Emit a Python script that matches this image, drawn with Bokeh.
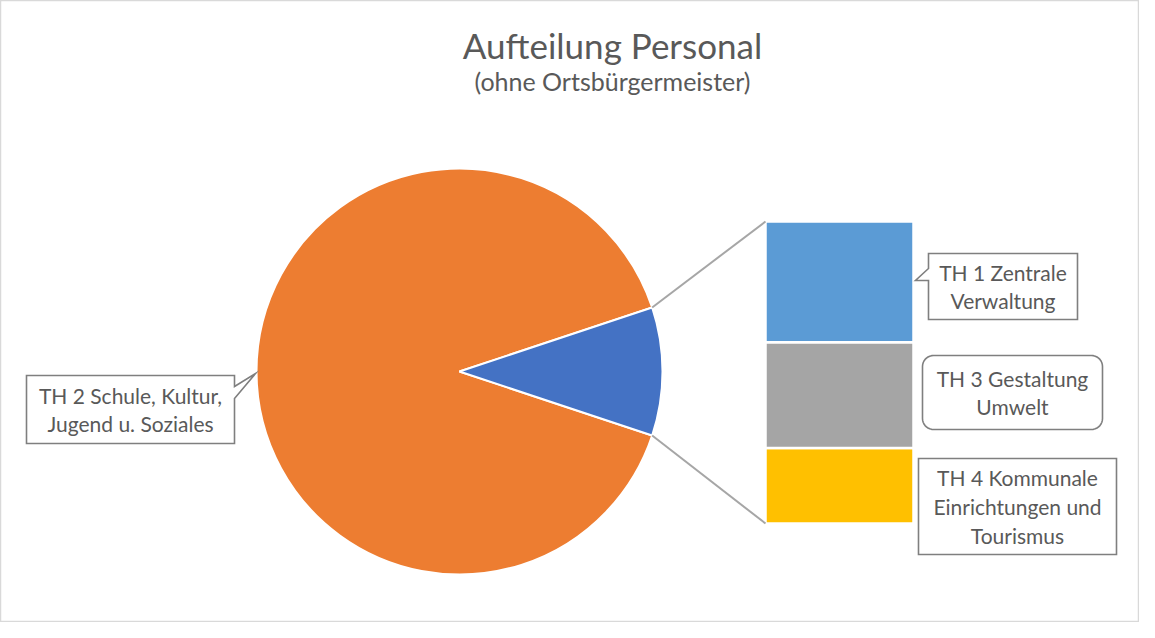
import numpy as np
from bokeh.plotting import figure
from bokeh.models import Range1d
from bokeh.core.properties import value
from bokeh.embed import file_html
from bokeh.resources import INLINE

# ---- data ----
title_text = "Aufteilung Personal"
subtitle_text = "(ohne Ortsbürgermeister)"
main_label = "TH 2 Schule, Kultur,\nJugend u. Soziales"
main_value = 176
bar_labels = ["TH 1 Zentrale\nVerwaltung", "TH 3 Gestaltung\nUmwelt", "TH 4 Kommunale\nEinrichtungen und\nTourismus"]
bar_values = [8, 7, 5]
bar_colors = ["#5B9BD5", "#A5A5A5", "#FFC000"]
pie_colors = ["#ED7D31", "#4472C4"]

FONT = "Lato"
TXT = "#595959"

W, H = 1139, 622
p = figure(width=W, height=H, x_range=Range1d(0, 1139), y_range=Range1d(16, 638),
           output_backend="svg", toolbar_location=None, min_border=0)
p.axis.visible = False
p.grid.visible = False
p.outline_line_color = "#D9D9D9"
p.outline_line_width = 1.5
p.background_fill_color = "white"
p.border_fill_color = "white"


def Y(py):
    return 638 - py


# ---- pie ----
cx, cy, r = 459, Y(371), 203
other = sum(bar_values)
total = main_value + other
theta = other / total * 2 * np.pi
p.wedge(x=[cx, cx], y=[cy, cy], radius=r,
        start_angle=[theta / 2, -theta / 2], end_angle=[2 * np.pi - theta / 2, theta / 2],
        fill_color=pie_colors, line_color="white", line_width=2)

# ---- bar of pie ----
bx0, bx1 = 765, 913
b_bottom, b_top = Y(523), Y(221)
scale = (b_top - b_bottom) / other
vals_bottom_up = bar_values[::-1]
cols_bottom_up = bar_colors[::-1]
cum = np.concatenate([[0], np.cumsum(vals_bottom_up)])
p.quad(left=bx0, right=bx1, bottom=b_bottom + cum[:-1] * scale, top=b_bottom + cum[1:] * scale,
       fill_color=cols_bottom_up, line_color="white", line_width=2.5)

# connector lines
ex, ey = cx + r * np.cos(theta / 2), cy + r * np.sin(theta / 2)
ex2, ey2 = cx + r * np.cos(-theta / 2), cy + r * np.sin(-theta / 2)
p.segment(x0=[ex, ex2], y0=[ey, ey2], x1=[bx0, bx0], y1=[b_top, b_bottom],
          line_color="#A6A6A6", line_width=2)

# ---- callouts ----
BOX_LINE = "#7F7F7F"


def callout_rect(x0, x1, y0, y1, pointer=None):
    xs = [x0, x1, x1, x0]
    ys = [y0, y0, y1, y1]
    if pointer is not None:
        side, a, b, tip = pointer
        if side == "right":
            xs = [x0, x1, x1, tip[0], x1, x1, x0]
            ys = [y0, y0, a, tip[1], b, y1, y1]
        elif side == "left":
            xs = [x0, x1, x1, x0, x0, tip[0], x0]
            ys = [y0, y0, y1, y1, b, tip[1], a]
    p.patch(x=xs, y=[Y(v) for v in ys], fill_color="white", line_color=BOX_LINE,
            line_width=1.6, line_join="miter")


def rounded_rect(x0, x1, y0, y1, rad):
    xs, ys = [], []
    corners = [(x1 - rad, y0 + rad, -np.pi / 2, 0), (x1 - rad, y1 - rad, 0, np.pi / 2),
               (x0 + rad, y1 - rad, np.pi / 2, np.pi), (x0 + rad, y0 + rad, np.pi, 1.5 * np.pi)]
    for (ccx, ccy, a0, a1) in corners:
        t = np.linspace(a0, a1, 10)
        xs.extend(ccx + rad * np.cos(t))
        ys.extend(ccy + rad * np.sin(t))
    p.patch(x=xs, y=[Y(v) for v in ys], fill_color="white", line_color=BOX_LINE, line_width=1.6)


callout_rect(26, 234, 375, 443, ("right", 386, 398, (255, 373)))
callout_rect(928, 1077, 253, 319, ("left", 268, 280, (915, 280)))
rounded_rect(922, 1102, 355, 429, 11)
callout_rect(918, 1116, 458, 554)

label_x = [130, 1002.5, 1012, 1017]
label_y = [Y(409), Y(286), Y(392), Y(506)]
p.text(x=label_x, y=label_y, text=[main_label] + bar_labels,
       text_font=value(FONT), text_font_size="21px", text_color=TXT,
       text_align="center", text_baseline="middle", text_line_height=1.15)

# ---- titles ----
p.text(x=[612], y=[Y(44)], text=[title_text], text_font=value(FONT), text_font_size="35px",
       text_color=TXT, text_align="center", text_baseline="middle")
p.text(x=[612], y=[Y(80)], text=[subtitle_text], text_font=value(FONT), text_font_size="25px",
       text_color=TXT, text_align="center", text_baseline="middle")

open("out.html", "w").write(file_html(p, INLINE))
